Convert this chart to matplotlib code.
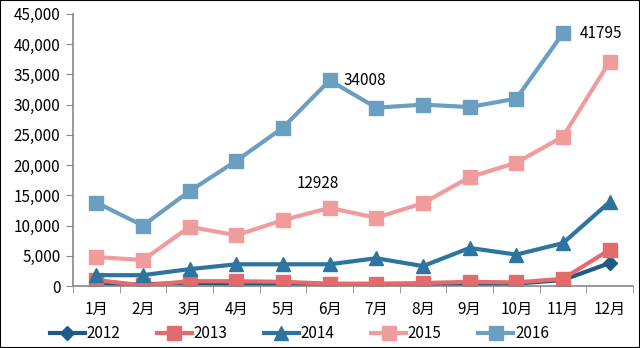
import matplotlib.pyplot as plt
import numpy as np

plt.rcParams['font.family'] = ['Noto Sans CJK SC', 'DejaVu Sans']

months = ['1月', '2月', '3月', '4月', '5月', '6月', '7月', '8月', '9月', '10月', '11月', '12月']
y2012 = [200, 300, 500, 300, 300, 200, 200, 300, 300, 400, 1000, 3800]
y2013 = [1000, 100, 800, 800, 700, 400, 400, 500, 700, 600, 1200, 6000]
y2014 = [1800, 1800, 2800, 3600, 3600, 3600, 4600, 3300, 6300, 5200, 7100, 13900]
y2015 = [4800, 4300, 9800, 8400, 10900, 12928, 11300, 13700, 18000, 20400, 24700, 37100]
y2016 = [13800, 10000, 15700, 20700, 26200, 34008, 29500, 30000, 29600, 31000, 41795]

x = np.arange(len(months))

fig = plt.figure(figsize=(6.4, 3.48), dpi=100)
ax = fig.add_axes([0.114, 0.178, 0.875, 0.782])

ax.plot(x, y2012, color='#1d5a86', lw=3, marker='D', ms=7, label='2012')
ax.plot(x, y2013, color='#e36b6b', lw=3, marker='s', ms=10, label='2013')
ax.plot(x, y2014, color='#2e74a0', lw=3, marker='^', ms=10, label='2014')
ax.plot(x, y2015, color='#f09c9c', lw=3, marker='s', ms=10, label='2015')
ax.plot(x[:len(y2016)], y2016, color='#6b9fc2', lw=3, marker='s', ms=10, label='2016')

# value labels
ax.text(5.3, y2016[5], str(y2016[5]), fontsize=11, va='center', ha='left')
ax.text(4.75, y2015[5] + 4000, str(y2015[5]), fontsize=11, va='center', ha='center')
ax.text(10.35, y2016[10], str(y2016[10]), fontsize=11, va='center', ha='left')

ax.set_xlim(-0.5, 11.5)
ax.set_ylim(0, 45000)
ax.set_yticks(range(0, 45001, 5000))
ax.set_yticklabels([f'{v:,}' for v in range(0, 45001, 5000)], fontsize=11)
ax.set_xticks(x)
ax.set_xticklabels(months, fontsize=11)
ax.set_xticks(np.arange(-0.5, 12, 1), minor=True)
ax.tick_params(axis='x', which='major', length=0, pad=11)
ax.tick_params(axis='x', which='minor', length=5, color='#888888')
ax.tick_params(axis='y', length=5, color='#888888', pad=4)

for s in ['top', 'right']:
    ax.spines[s].set_visible(False)
for s in ['left', 'bottom']:
    ax.spines[s].set_color('#888888')
    ax.spines[s].set_linewidth(1.2)

ax.legend(loc='center', bbox_to_anchor=(0.404, -0.175), ncol=5, frameon=False,
          fontsize=11, handlelength=2.3, columnspacing=2.4, handletextpad=0.1,
          borderpad=0, borderaxespad=0)

fig.patches.append(plt.Rectangle((0, 0), 1, 1, transform=fig.transFigure,
                                 fill=False, edgecolor='black', lw=1.5))

fig.savefig('out.png', dpi=100)
